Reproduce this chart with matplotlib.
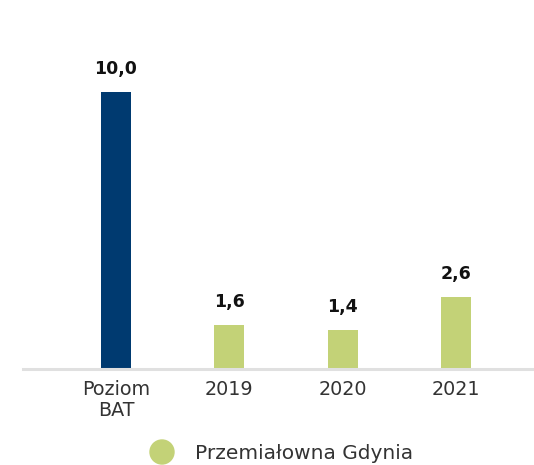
import matplotlib
matplotlib.use("Agg")
import matplotlib.pyplot as plt
from matplotlib.patches import Ellipse

categories = ["Poziom\nBAT", "2019", "2020", "2021"]
values = [10.0, 1.6, 1.4, 2.6]
value_labels = ["10,0", "1,6", "1,4", "2,6"]
legend_label = "Przemiałowna Gdynia"

blue = "#003A70"
green = "#C3D277"
colors = [blue, green, green, green]

plt.rcParams['font.family'] = ['DejaVu Sans']

W, H = 534, 465
fig = plt.figure(figsize=(W / 100, H / 100), dpi=100)
ax = fig.add_axes([23 / W, 96 / H, (W - 23) / W, 369 / H])

x = list(range(len(categories)))
ax.bar(x, values, width=0.265, color=colors, zorder=2)
ax.set_xlim(-0.82, 3.69)
ax.set_ylim(0, 13.32)

for xi, v, lab in zip(x, values, value_labels):
    ax.annotate(lab, (xi, v), xytext=(0, 10), textcoords="offset points",
                ha="center", va="bottom", fontsize=12.5, fontweight="bold",
                color="#111111")

ax.set_xticks(x)
ax.set_xticklabels(categories, fontsize=13.8, color="#333333", linespacing=1.1)
ax.tick_params(axis="x", length=0, pad=8)
ax.set_yticks([])
for s in ["top", "left", "right"]:
    ax.spines[s].set_visible(False)
ax.spines["bottom"].set_color("#E0E0E0")
ax.spines["bottom"].set_linewidth(2.2)

# legend
fig.patches.append(Ellipse((162 / W, 1 - 452 / H), 24 / W, 24 / H,
                           transform=fig.transFigure, color=green))
fig.text(195 / W, 1 - 453 / H, legend_label, fontsize=14.5, color="#333333",
         ha="left", va="center")

fig.savefig("out.png", dpi=100)
